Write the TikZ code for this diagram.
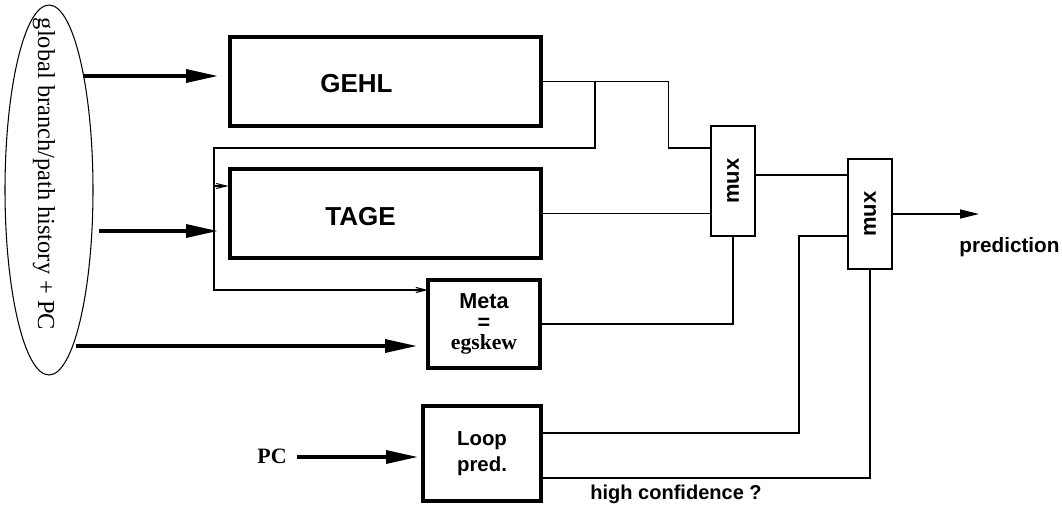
\documentclass[tikz,border=0pt]{standalone}
\usepackage{fontspec}
\setmainfont{Liberation Serif}
\setsansfont{Liberation Sans}
\usetikzlibrary{shapes.geometric}
\usetikzlibrary{positioning}
\usetikzlibrary{arrows.meta}
\tikzset{
    bigbox/.style = {rectangle, draw=black, line width=1.9pt, minimum width=6.22cm, minimum height=1.78cm},
    smallbox/.style = {rectangle, draw=black, line width=1.9pt, align=center, inner sep=0pt,font=\sffamily\bfseries\fontsize{12.3}{11.5}\selectfont},
    muxbox/.style = {rectangle, draw=black, line width=0.7pt, inner sep=0pt, minimum width=0.88cm, minimum height=2.2cm,font=\sffamily\bfseries\fontsize{12.5}{13}\selectfont},
    bigtext/.style = {anchor=base west, inner sep=0pt, font=\sffamily\bfseries\fontsize{14.8}{17}\selectfont},
    smalltext/.style = {anchor=base west, inner sep=0pt, font=\sffamily\bfseries\fontsize{11.8}{14}\selectfont},
    edgeb/.style = {-{Triangle[length=0.64cm,width=0.26cm]}, line width=1.9pt}, % bold input
    edgen/.style = {line width=0.7pt}, % plain wire
    edgef/.style = {-{Straight Barb[length=0.2cm,width=0.1cm]}, line width=0.6pt}, % feedback
    edgep/.style = {-{Triangle[length=0.38cm,width=0.18cm]}, line width=0.9pt}
}
\begin{document}
\begin{tikzpicture}[x=0.02cm,y=-0.02cm]
\useasboundingbox (0,0) rectangle (1062,510);
%
\node[ellipse, draw=black, line width=0.6pt, inner sep=0pt, minimum width=1.76cm, minimum height=7.4cm] at (49,190) (hist) {};
\node[rotate=-90, inner sep=0pt, font=\fontsize{13.9}{16}\selectfont] at (44,174) (histtxt) {global branch/path history + PC};
\node[bigbox] at (385.5,81.5) (gehl) {};
\node[bigbox] at (385.5,213.5) (tage) {};
\node[bigtext] at (320,93) (gehltxt) {GEHL};
\node[bigtext] at (325,225) (tagetxt) {TAGE};
\node[smallbox, minimum width=2.24cm, minimum height=1.76cm] at (484,324) (meta) {Meta\\=\\{\rmfamily egskew}};
\node[smallbox, minimum width=2.36cm, minimum height=1.9cm, font=\sffamily\bfseries\fontsize{11.6}{14.8}\selectfont] at (482,453.5) (loop) {Loop\\pred.};
\node[muxbox] at (733,181) (muxa) {\rotatebox{90}{mux}};
\node[muxbox] at (870,214) (muxb) {\rotatebox{90}{mux}};
\node[anchor=base west, inner sep=0pt, font=\rmfamily\bfseries\fontsize{12.5}{14}\selectfont] at (257,463) (pc) {PC};
\node[smalltext] at (959,252) (predtxt) {prediction};
\node[smalltext, font=\sffamily\bfseries\fontsize{11.4}{14}\selectfont] at (590,499) (conf) {high confidence ?};
%
\coordinate (ina) at (83,76);
\coordinate (inb) at (99,231);
\coordinate (inc) at (76,346);
\coordinate (fba) at (595,81.5);
\coordinate (fbb) at (214,148);
\coordinate (fbc) at (214,186);
\coordinate (metain) at (428,290);
\coordinate (muxout) at (755,175);
\coordinate (loopa) at (540,433);
\coordinate (loopb) at (540,478);
\coordinate (pred) at (979,214);
%
\draw[edgeb] (ina) -- (ina -| 218,0);
\draw[edgeb] (inb) -- (inb -| 218,0);
\draw[edgeb] (inc) -- (inc -| 417,0);
\draw[edgeb] (pc.east |- 0,457) ++(10,0) -- (418,457);
%
\draw[edgen] (gehl.east) -- ++(126,0) |- (muxa.west |- 0,148);
\draw[edgef] (fba) |- (fbb) |- (metain);
\draw[edgef] (fbc) -- (tage.west |- fbc);
\draw[edgen] (tage.east) -- (tage.east -| muxa.west);
\draw[edgen] (meta.east) -| (muxa.south);
\draw[edgen] (muxout) -- (muxout -| muxb.west);
\draw[edgen] (loopa) -| (799,236) -- (muxb.west |- 0,236);
\draw[edgen] (loopb) -| (muxb.south);
\draw[edgep] (muxb.east) -- (pred);
\end{tikzpicture}
\end{document}
